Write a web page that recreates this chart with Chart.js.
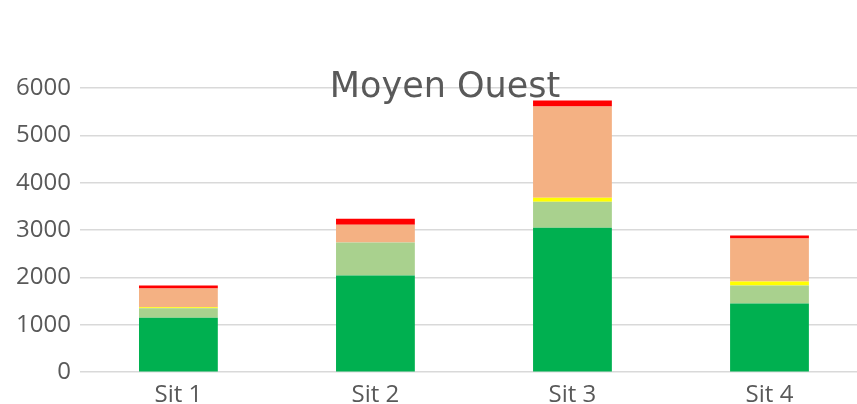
<!DOCTYPE html>
<html>
<head>
<meta charset="utf-8">
<script src="https://cdn.jsdelivr.net/npm/chart.js@4"></script>
<style>
  html, body { margin: 0; padding: 0; background: #fff; overflow: hidden; }
  #wrap { width: 890px; height: 419px; position: relative; }
</style>
</head>
<body>
<div id="wrap"><canvas id="chart"></canvas></div>
<script>
const categories = ["Sit 1", "Sit 2", "Sit 3", "Sit 4"];
const seriesNames = ["Très bon", "Bon", "Moyen", "Mauvais", "Très mauvais"];
const darkGreen = [1150, 2040, 3050, 1450];
const lightGreen = [200, 700, 550, 380];
const yellow = [20, 0, 85, 85];
const orange = [395, 375, 1925, 910];
const red = [64, 127, 126, 63];
const colors = ["#00B050", "#A9D18E", "#FFFF00", "#F4B183", "#FF0000"];
const chartTitle = "Moyen Ouest";

// title sits on top of the plot, like in the original
const titlePlugin = {
    id: "overTitle",
    afterDraw(chart) {
        const ctx = chart.ctx;
        ctx.save();
        ctx.font = "35px 'DejaVu Sans'";
        ctx.fillStyle = "#595959";
        ctx.textAlign = "center";
        ctx.textBaseline = "alphabetic";
        ctx.fillText(chartTitle, chart.width / 2, 97);
        ctx.restore();
    }
};

const values = [darkGreen, lightGreen, yellow, orange, red];

new Chart(document.getElementById("chart"), {
    type: "bar",
    data: {
        labels: categories,
        datasets: values.map((v, i) => ({
            label: seriesNames[i],
            data: v,
            backgroundColor: colors[i],
            borderWidth: 0,
            barPercentage: 0.4,
            categoryPercentage: 1
        }))
    },
    options: {
        responsive: true,
        maintainAspectRatio: false,
        animation: false,
        layout: { padding: { top: 88, right: 22, left: 7, bottom: 0 } },
        plugins: { legend: { display: false }, tooltip: { enabled: false } },
        scales: {
            x: {
                stacked: true,
                grid: { display: false, drawTicks: false },
                border: { display: false },
                ticks: { color: "#595959", font: { family: "'Open Sans'", size: 24 }, padding: 9 }
            },
            y: {
                stacked: true,
                min: 0,
                max: 6000,
                ticks: {
                    stepSize: 1000,
                    color: "#595959",
                    font: { family: "'Open Sans'", size: 24 },
                    padding: 9,
                    callback: v => String(v)
                },
                grid: { color: "#d9d9d9", lineWidth: 1.5, drawTicks: false },
                border: { display: false }
            }
        }
    },
    plugins: [titlePlugin]
});
</script>
</body>
</html>
